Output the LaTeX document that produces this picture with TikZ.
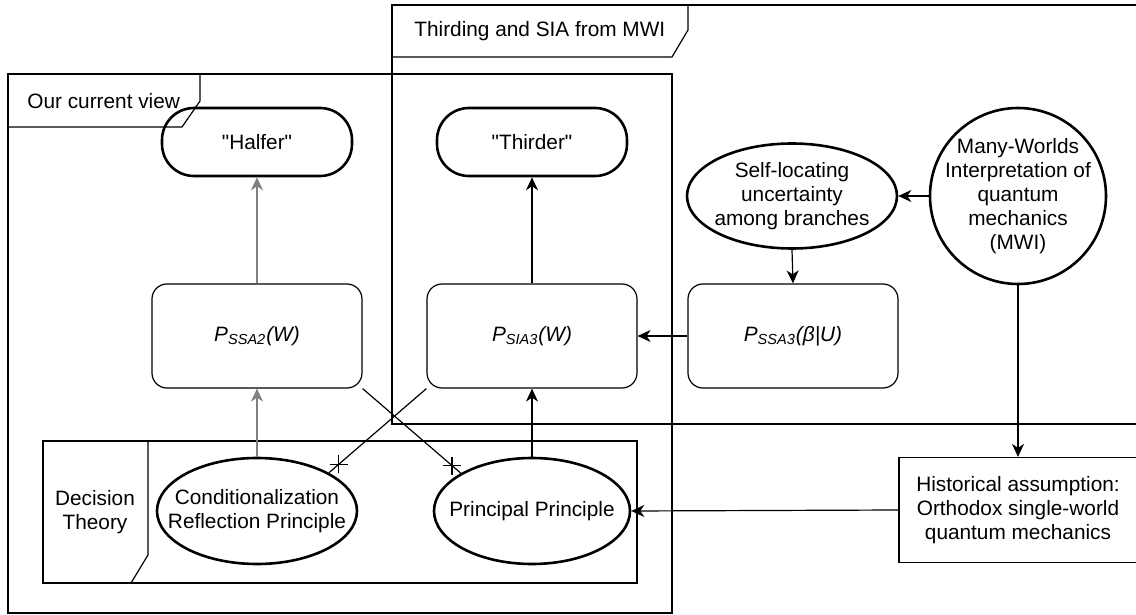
\documentclass[tikz,border=0pt]{standalone}
\usepackage{fontspec}
\setmainfont{Liberation Sans}[Ligatures=TeXOff]
\usetikzlibrary{arrows.meta,shapes.geometric}
\tikzset{
  box/.style={draw, line width=0.6pt, rounded corners=7.5pt,
              minimum width=105pt, minimum height=52pt, align=center},
  pill/.style={draw, line width=1.3pt, rounded corners=16pt,
               minimum width=95pt, minimum height=34pt, align=center},
  oval/.style={draw, ellipse, line width=1.3pt, inner sep=0pt},
  txt/.style={align=center},
  plainbox/.style={draw, line width=0.6pt, minimum width=119pt,
                   minimum height=52.5pt, align=center},
  frame/.style={draw, line width=0.6pt},
  link/.style={-{Stealth[length=6.5pt,width=6pt,inset=2pt]}, line width=0.6pt},
  greylink/.style={link, draw=black!50, line width=0.8pt},
  clash/.style={line width=0.6pt},
}

\begin{document}
\begin{tikzpicture}[x=0.5pt, y=-0.5pt, font=\fontsize{10.4pt}{12pt}\selectfont]
\useasboundingbox (0,0) rectangle (1136,615);

%% Frame: our current view
\draw[frame] (8,74) rectangle (672,613);
\draw[frame] (8,127) -- (182,127) -- (200,101) -- (200,74);
\node[anchor=west, inner sep=0pt] (curlbl) at (27,101) {Our current view};

%% Frame: thirding and SIA (runs off the right edge)
\draw[frame] (1136,5) -- (392,5) -- (392,424) -- (1136,424);
\draw[frame] (392,57) -- (672,57) -- (688,30) -- (688,5);
\node[anchor=west, inner sep=0pt] (mwilbl) at (414,31) {Thirding and SIA from MWI};

%% Frame: decision theory
\draw[frame] (43,441) rectangle (637,583);
\draw[frame] (148,441) -- (148,555) -- (131,583);
\node[txt] (dtlbl) at (95,512) {Decision\\Theory};

%% Outcomes
\node[pill] (halfer)  at (257,142) {"Halfer"};
\node[pill] (thirder) at (532,142) {"Thirder"};

%% Credences
\node[box] (ssa2) at (257,336) {\itshape P\textsubscript{SSA2}(W)};
\node[box] (sia3) at (532,336) {\itshape P\textsubscript{SIA3}(W)};
\node[box] (ssa3) at (793,336) {\itshape P\textsubscript{SSA3}(β|U)};

%% Premises
\node[oval, minimum width=105pt, minimum height=52.5pt,
      label={[txt]center:Self-locating\\uncertainty\\among branches}] (self) at (792,196) {};
\node[oval, circle, minimum size=88pt,
      label={[txt]center:Many-Worlds\\Interpretation of\\quantum\\mechanics\\(MWI)}] (mwi) at (1018,196) {};
\node[plainbox] (hist) at (1018,510)
  {Historical assumption:\\Orthodox single-world\\quantum mechanics};
\node[oval, minimum width=100pt, minimum height=53pt,
      label={[txt]center:Conditionalization\\Reflection Principle}] (cond) at (257,511) {};
\node[oval, minimum width=98pt, minimum height=53pt,
      label={[txt]center:Principal Principle}] (pp) at (532,511) {};

%% Arrows
\draw[greylink] (ssa2.north) -- (halfer.south);
\draw[greylink] (cond.north) -- (ssa2.south);
\foreach \s/\t in {sia3.north/thirder.south, pp.north/sia3.south,
                   self.south/ssa3.north, mwi.west/self.east,
                   ssa3.west/sia3.east, mwi.south/hist.north,
                   hist.west/pp.east}
  \draw[link] (\s) -- (\t);

%% Crossed links
\draw[clash] (ssa2.south east) -- (pp.152) coordinate[pos=0.91] (tick1);
\draw[clash] (sia3.south west) -- (cond.28) coordinate[pos=0.9] (tick2);
\foreach \k in {tick1, tick2}
  \draw[clash] ([xshift=-4.5pt]\k) -- ([xshift=4.5pt]\k)
               ([yshift=-4.5pt]\k) -- ([yshift=4.5pt]\k);

\end{tikzpicture}
\end{document}
